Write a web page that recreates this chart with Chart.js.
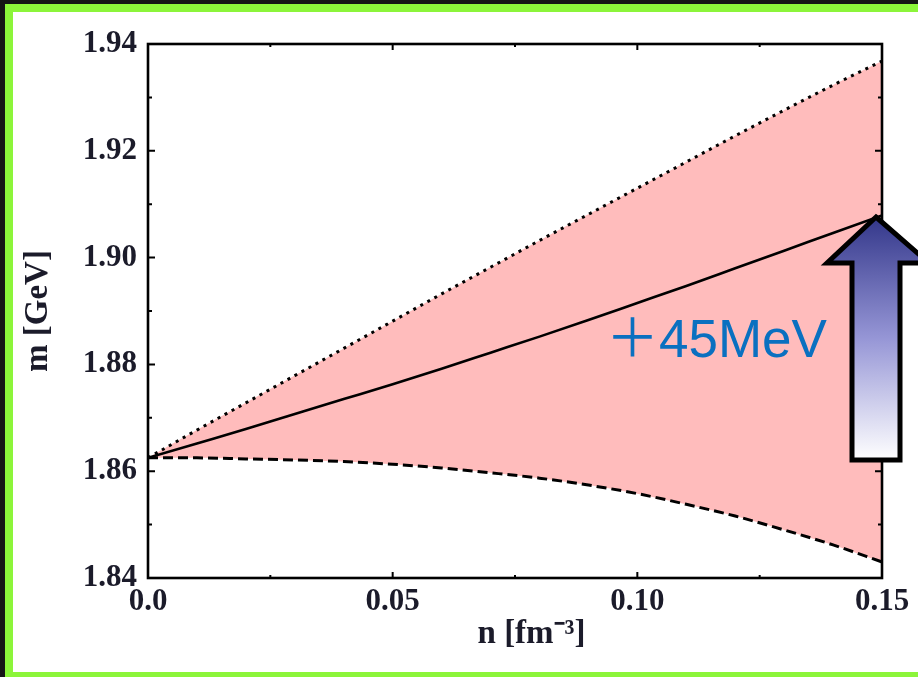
<!DOCTYPE html>
<html>
<head>
<meta charset="utf-8">
<script src="https://cdn.jsdelivr.net/npm/chart.js@4.4.1/dist/chart.umd.min.js"></script>
<style>
  html, body { margin: 0; padding: 0; background: #151515; width: 918px; height: 677px; overflow: hidden; }
  #frame {
    position: absolute; left: 5px; top: 4px; width: 905px; height: 660px;
    background: #fff;
    border-left: 8px solid #8cf53a; border-top: 8px solid #8cf53a; border-bottom: 5px solid #8cf53a;
  }
  #plot { position: absolute; left: 0; top: 0; }
  #note {
    position: absolute; left: 606px; top: 312px;
    font: 53px "Liberation Sans", Arial, "Noto Sans CJK JP", sans-serif;
    color: #0a70c0; white-space: nowrap; line-height: 1;
  }
  #arrow { position: absolute; left: 0; top: 0; }
</style>
</head>
<body>
<div id="frame"></div>
<canvas id="plot" width="918" height="677"></canvas>
<div id="note">＋45MeV</div>
<svg id="arrow" width="918" height="677">
  <defs>
    <linearGradient id="ag" x1="0" y1="0" x2="0" y2="1">
      <stop offset="0" stop-color="#33378a"/>
      <stop offset="0.5" stop-color="#9696d6"/>
      <stop offset="1" stop-color="#ffffff"/>
    </linearGradient>
  </defs>
  <polygon points="876,217 929,263 900,263 900,460 852,460 852,263 827,263"
           fill="url(#ag)" stroke="#000" stroke-width="5" stroke-linejoin="miter"/>
</svg>
<script>
// n [fm^-3] sample points and the three mass curves
const N_VALUES = [0, 0.01, 0.02, 0.03, 0.04, 0.05, 0.06, 0.07, 0.08, 0.09, 0.10, 0.11, 0.12, 0.13, 0.14, 0.15];
const M_UPPER  = [1.8625, 1.8677, 1.8728, 1.8779, 1.8830, 1.8881, 1.8932, 1.8982, 1.9032, 1.9081, 1.9130, 1.9179, 1.9228, 1.9276, 1.9323, 1.9368];
const M_MIDDLE = [1.8625, 1.8652, 1.8679, 1.8707, 1.8735, 1.8763, 1.8792, 1.8822, 1.8852, 1.8883, 1.8915, 1.8947, 1.8980, 1.9013, 1.9046, 1.9079];
const M_LOWER  = [1.8625, 1.8625, 1.8623, 1.8621, 1.8618, 1.8613, 1.8606, 1.8597, 1.8587, 1.8574, 1.8558, 1.8538, 1.8516, 1.8490, 1.8462, 1.8430];

const X_TICKS = [0, 0.05, 0.10, 0.15];
const X_TICK_LABELS = ["0.0", "0.05", "0.10", "0.15"];
const X_MINOR = [0.025, 0.075, 0.125];
const Y_TICKS = [1.84, 1.86, 1.88, 1.90, 1.92, 1.94];
const Y_TICK_LABELS = ["1.84", "1.86", "1.88", "1.90", "1.92", "1.94"];
const Y_MINOR = [1.85, 1.87, 1.89, 1.91, 1.93];

const pts = arr => N_VALUES.map((n, i) => ({ x: n, y: arr[i] }));

// inward ticks on all four sides + boxed frame
const frameTicks = {
  id: "frameTicks",
  afterDatasetsDraw(chart) {
    const { ctx, chartArea: a, scales: { x, y } } = chart;
    ctx.save();
    ctx.strokeStyle = "#000";
    ctx.lineWidth = 2;
    ctx.beginPath();
    const xt = (v, len) => {
      const px = x.getPixelForValue(v);
      ctx.moveTo(px, a.bottom); ctx.lineTo(px, a.bottom - len);
      ctx.moveTo(px, a.top);    ctx.lineTo(px, a.top + len);
    };
    const yt = (v, len) => {
      const py = y.getPixelForValue(v);
      ctx.moveTo(a.left, py);  ctx.lineTo(a.left + len, py);
      ctx.moveTo(a.right, py); ctx.lineTo(a.right - len, py);
    };
    X_TICKS.forEach(v => xt(v, 6));
    X_MINOR.forEach(v => xt(v, 3));
    Y_TICKS.forEach(v => yt(v, 7));
    Y_MINOR.forEach(v => yt(v, 4));
    ctx.stroke();
    ctx.lineWidth = 2.6;
    ctx.strokeRect(a.left, a.top, a.right - a.left, a.bottom - a.top);
    ctx.restore();
  }
};

const tickFont = { family: "'Liberation Serif', 'Times New Roman', serif", size: 31, weight: "bold" };
const titleFont = { family: "'Liberation Serif', 'Times New Roman', serif", size: 33, weight: "bold" };

new Chart(document.getElementById("plot"), {
  type: "line",
  data: {
    datasets: [
      {
        label: "upper",
        data: pts(M_UPPER),
        borderColor: "#000",
        borderWidth: 3,
        borderDash: [3, 5],
        fill: "+2",
        backgroundColor: "rgb(255,188,188)",
        pointRadius: 0,
        cubicInterpolationMode: "monotone"
      },
      {
        label: "central",
        data: pts(M_MIDDLE),
        borderColor: "#000",
        borderWidth: 2.6,
        fill: false,
        pointRadius: 0,
        cubicInterpolationMode: "monotone"
      },
      {
        label: "lower",
        data: pts(M_LOWER),
        borderColor: "#000",
        borderWidth: 3,
        borderDash: [10, 5],
        fill: false,
        pointRadius: 0,
        cubicInterpolationMode: "monotone"
      }
    ]
  },
  options: {
    responsive: false,
    animation: false,
    events: [],
    layout: { padding: { left: 14, top: 44, right: 36, bottom: 5 } },
    plugins: {
      legend: { display: false },
      tooltip: { enabled: false },
      filler: { drawTime: "beforeDatasetsDraw" }
    },
    scales: {
      x: {
        type: "linear",
        min: 0,
        max: 0.15,
        afterBuildTicks: s => { s.ticks = X_TICKS.map(v => ({ value: v })); },
        afterFit: s => { s.height = 94; },
        grid: { display: false, drawTicks: false },
        border: { display: false },
        ticks: {
          autoSkip: false,
          maxRotation: 0,
          padding: 5,
          color: "#1b1b2a",
          font: tickFont,
          callback: (v, i) => X_TICK_LABELS[i]
        },
        title: {
          display: true,
          text: "    n [fm⁻³]",
          color: "#1b1b2a",
          font: titleFont,
          padding: { top: 0, bottom: 18 }
        }
      },
      y: {
        min: 1.84,
        max: 1.94,
        afterBuildTicks: s => { s.ticks = Y_TICKS.map(v => ({ value: v })); },
        afterFit: s => { s.width = 134; },
        grid: { display: false, drawTicks: false },
        border: { display: false },
        ticks: {
          autoSkip: false,
          padding: 11,
          color: "#1b1b2a",
          font: tickFont,
          callback: (v, i) => Y_TICK_LABELS[i]
        },
        title: {
          display: true,
          text: "m [GeV]",
          color: "#1b1b2a",
          font: titleFont,
          padding: { top: 5, bottom: 0 }
        }
      }
    }
  },
  plugins: [frameTicks]
});
</script>
</body>
</html>
